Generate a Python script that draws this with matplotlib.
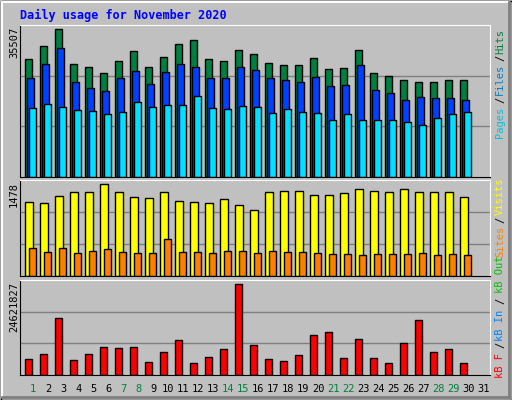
import matplotlib
matplotlib.use("Agg")
import matplotlib.pyplot as plt
from matplotlib.patches import Rectangle

# ── data ──
days = list(range(1, 32))
hits = [27590, 30647, 34644, 26414, 25709, 24298, 27120, 29471, 25709, 28060,
        31117, 32058, 27590, 27120, 29706, 28766, 26650, 26179, 26179, 27825,
        25239, 25474, 29706, 24298, 23593, 22652, 22182, 22182, 22652, 22652]
files = [23122, 26414, 30177, 22182, 20771, 20065, 23122, 24768, 21712, 24533,
         26414, 25709, 23122, 23122, 25709, 25004, 23122, 22652, 22182, 23357,
         21241, 21476, 26179, 20300, 19595, 17949, 18655, 18419, 18419, 17949]
pages = [16068, 17009, 16303, 15598, 15362, 14657, 15128, 17479, 16303, 16774,
         16774, 18890, 16068, 15833, 16539, 16303, 14892, 15833, 15128, 14892,
         13246, 14657, 13246, 13246, 13246, 12776, 12071, 13717, 14657, 15128]
visits = [1139, 1124, 1232, 1293, 1293, 1416, 1293, 1216, 1201, 1293,
          1155, 1139, 1124, 1185, 1093, 1016, 1293, 1309, 1309, 1247,
          1247, 1278, 1339, 1309, 1293, 1339, 1293, 1293, 1293, 1216]
sites = [431, 370, 431, 354, 385, 416, 370, 354, 354, 570,
         370, 370, 354, 385, 385, 354, 385, 370, 370, 354,
         339, 339, 323, 339, 339, 339, 354, 323, 339, 323]
kbytes = [4233000, 5529000, 14773000, 3974000, 5529000, 7343000, 7084000, 7343000,
          3456000, 6047000, 9158000, 3196000, 4752000, 6825000, 23671000, 7862000,
          4233000, 3715000, 5270000, 10453000, 11231000, 4492000, 9417000, 4492000,
          3196000, 8380000, 14255000, 6047000, 6825000, 3196000]
weekend = [1, 7, 8, 14, 15, 21, 22, 28, 29]
max_hits, max_visits, max_kb = 35507, 1478, 24621827

W, H = 512, 400
BG = "#C0C0C0"
MONO = "DejaVu Sans Mono"
PX = 1 / 15.0  # one pixel in day units

fig = plt.figure(figsize=(W / 100, H / 100), dpi=100)
fig.patch.set_facecolor(BG)

# outer border + bevel
frame = fig.add_axes([0, 0, 1, 1])
frame.set_xlim(0, W)
frame.set_ylim(H, 0)
frame.axis("off")
frame.add_patch(Rectangle((0.5, 0.5), W - 1, H - 1, fill=False, ec="black", lw=1))
frame.plot([2, W - 3], [2, 2], color="white", lw=1.5)
frame.plot([2, 2], [2, H - 3], color="white", lw=1.5)
frame.plot([W - 3, W - 3], [2, H - 3], color="#808080", lw=2)
frame.plot([2, W - 3], [H - 3, H - 3], color="#808080", lw=2)

frame.text(20, 15, "Daily usage for November 2020", family=MONO, weight="bold",
           fontsize=8.5, color="#0000FF", va="center", ha="left")


def panel(top, bottom, vmax, label):
    ax = fig.add_axes([20 / W, 1 - bottom / H, 470 / W, (bottom - top) / H])
    ax.set_facecolor(BG)
    ax.set_xlim(1 - 5.3 * PX, 1 - 5.3 * PX + 470 * PX)
    ax.set_ylim(0, vmax)
    ax.set_xticks([])
    ax.set_yticks([])
    for y in (vmax / 3, 2 * vmax / 3):
        ax.axhline(y, color="#808080", lw=1, zorder=0)
    for s in ("left", "bottom"):
        ax.spines[s].set_color("black")
    for s in ("top", "right"):
        ax.spines[s].set_color("white")
    frame.text(14, top + 2, label, rotation=90, family=MONO, fontsize=7.5,
               ha="center", va="top")
    return ax


kw = dict(align="edge", edgecolor="black", linewidth=1)

ax1 = panel(25, 177, max_hits, str(max_hits))
d = days[:len(hits)]
ax1.bar(d, hits, width=7 * PX, color="#008040", **kw)
ax1.bar([x + 2 * PX for x in d], files, width=7 * PX, color="#0040FF", **kw)
ax1.bar([x + 4 * PX for x in d], pages, width=7 * PX, color="#00E0FF", **kw)

ax2 = panel(180, 276, max_visits, str(max_visits))
ax2.bar(d, visits, width=8 * PX, color="#FFFF00", **kw)
ax2.bar([x + 4 * PX for x in d], sites, width=7 * PX, color="#FF8000", **kw)

ax3 = panel(280, 375, max_kb, str(max_kb))
ax3.bar(d, kbytes, width=7 * PX, color="#FF0000", **kw)

# day labels
for day in days:
    x = 33.3 + 15 * (day - 1)
    frame.text(x, 389, str(day), family=MONO, fontsize=7.5, ha="center", va="center",
               color="#008040" if day in weekend else "black")

# right-hand legends (vertical, reading upward)
legend = [
    ("Hits", "#008040", 41), ("/", "black", 58), ("Files", "#0080C0", 79),
    ("/", "black", 100), ("Pages", "#00C0E0", 122),
    ("Visits", "#FFFF00", 196), ("/", "black", 220), ("Sites", "#FF8000", 241),
    ("kB Out", "#00C000", 274), ("/", "black", 301), ("kB In", "#0080FF", 325),
    ("/", "black", 345), ("kB F", "#FF0000", 365),
]
for txt, col, y in legend:
    frame.text(500, y, txt, rotation=90, family=MONO, fontsize=7.5, color=col,
               ha="center", va="center")

fig.savefig("out.png", dpi=100, facecolor=BG)
